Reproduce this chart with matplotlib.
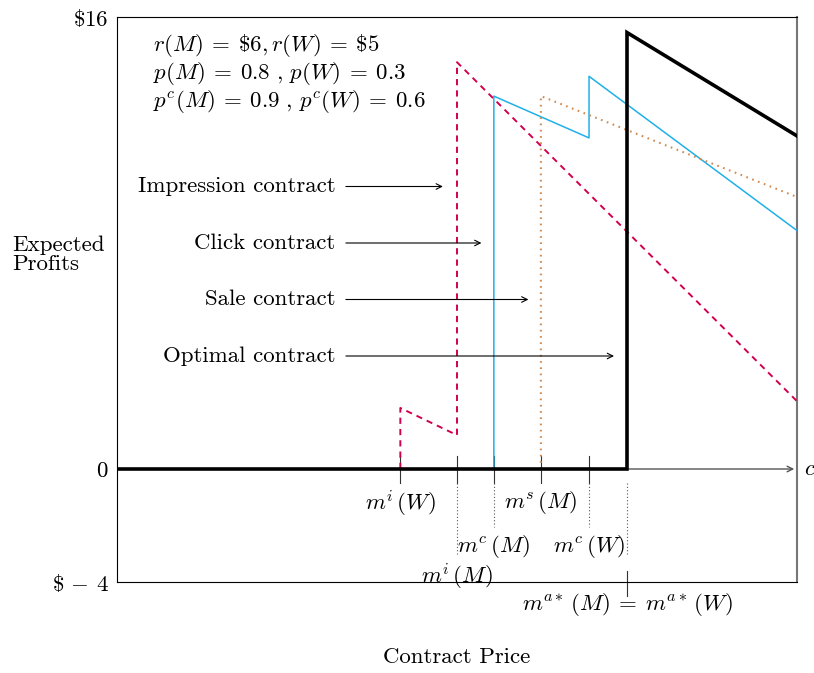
import matplotlib

matplotlib.use("Agg")
import matplotlib.pyplot as plt

plt.rcParams["font.family"] = "serif"
plt.rcParams["font.serif"] = ["cmr10", "DejaVu Serif"]
plt.rcParams["mathtext.fontset"] = "cm"
plt.rcParams["axes.unicode_minus"] = False

# contract price positions (thresholds)
m_iW, m_iM, m_cM, m_sM, m_cW, m_a = 5.0, 6.0, 6.65, 7.48, 8.33, 9.0
x_end = 12.0

impression_x = [m_iW, m_iW, m_iM, m_iM, x_end]
impression_y = [0, 2.16, 1.2, 14.4, 2.4]
click_x = [m_cM, m_cM, m_cW, m_cW, x_end]
click_y = [0, 13.2, 11.72, 13.9, 8.44]
sale_x = [m_sM, m_sM, x_end]
sale_y = [0, 13.2, 9.63]
optimal_x = [0, m_a, m_a, x_end]
optimal_y = [0, 0, 15.45, 11.79]

y_ticks = [-4, 0, 16]
y_ticklabels = [r"$\$\,-\,4$", r"$0$", r"$\$16$"]

arrow_labels = ["Impression contract", "Click contract", "Sale contract", "Optimal contract"]
arrow_y = [10, 8, 6, 4]
arrow_end = [5.8, 6.48, 7.31, 8.82]

params = [
    r"$r(M)\:=\:\$6,r(W)\:=\:\$5$",
    r"$p(M)\:=\:0.8\ ,\,p(W)\:=\:0.3$",
    r"$p^c(M)\:=\:0.9\ ,\,p^c(W)\:=\:0.6$",
]

FS = 16.5

fig = plt.figure(figsize=(8.14, 6.73), dpi=100)
ax = fig.add_axes([117 / 814, 1 - 582 / 673, 680 / 814, 565 / 673])
ax.set_xlim(0, x_end)
ax.set_ylim(-4, 16)

# x axis at zero
ax.annotate("", xy=(x_end, 0), xytext=(0, 0),
            arrowprops=dict(arrowstyle="->", color="#555555", lw=1.0), zorder=1)
ax.text(x_end + 0.12, 0, r"$c$", fontsize=FS, va="center", ha="left", clip_on=False)

ax.plot(impression_x, impression_y, color="#D1004F", lw=1.4, linestyle=(0, (3.2, 2.6)), zorder=3)
ax.plot(click_x, click_y, color="#1FB0E8", lw=1.1, zorder=3)
ax.plot(sale_x, sale_y, color="#D08A50", lw=1.5, linestyle=(0, (0.8, 2.2)), zorder=3)
ax.plot(optimal_x, optimal_y, color="black", lw=2.6, zorder=4, solid_joinstyle="miter")

# tick marks at thresholds
for xm in [m_iW, m_iM, m_cM, m_sM, m_cW]:
    ax.plot([xm, xm], [0.46, -0.5], color="#333333", lw=0.8, zorder=2)
for xm, ylow in [(m_iM, -3.0), (m_cM, -2.05), (m_cW, -2.05), (m_a, -3.0)]:
    ax.plot([xm, xm], [-0.5, ylow], color="#555555", lw=0.8, linestyle=(0, (1, 2)), zorder=2)
ax.plot([m_a, m_a], [-3.6, -4.5], color="#333333", lw=0.8, clip_on=False)

tick_labels = [
    (m_iW, -1.2, r"$m^i\,(W)$"),
    (m_sM, -1.2, r"$m^s\,(M)$"),
    (m_cM, -2.76, r"$m^c\,(M)$"),
    (m_cW, -2.76, r"$m^c\,(W)$"),
    (m_iM, -3.79, r"$m^i\,(M)$"),
    (m_a, -4.78, r"$m^{a*}\,(M)\:=\:m^{a*}\,(W)$"),
]
for xl, yl, s in tick_labels:
    ax.text(xl, yl, s, fontsize=FS, ha="center", va="center", clip_on=False)

for label, ya, xe in zip(arrow_labels, arrow_y, arrow_end):
    ax.text(3.85, ya, label, fontsize=FS, ha="right", va="center")
    ax.annotate("", xy=(xe, ya), xytext=(3.99, ya),
                arrowprops=dict(arrowstyle="->", color="black", lw=0.8))

for i, s in enumerate(params):
    ax.text(0.635, 15 - i, s, fontsize=FS, ha="left", va="center")

ax.set_xticks([])
ax.set_yticks(y_ticks)
ax.set_yticklabels(y_ticklabels, fontsize=FS)
ax.tick_params(axis="y", length=0, pad=6)

for side in ["left", "top", "bottom"]:
    ax.spines[side].set_linewidth(0.8)
ax.spines["right"].set_color("#777777")
ax.spines["right"].set_linewidth(1.5)

fig.text(12 / 814, 1 - 255 / 673, "Expected\nProfits", fontsize=FS, ha="left",
         va="center", linespacing=0.95)
fig.text(457 / 814, 1 - 657 / 673, "Contract Price", fontsize=FS, ha="center", va="center")

fig.savefig("out.png", dpi=100)
